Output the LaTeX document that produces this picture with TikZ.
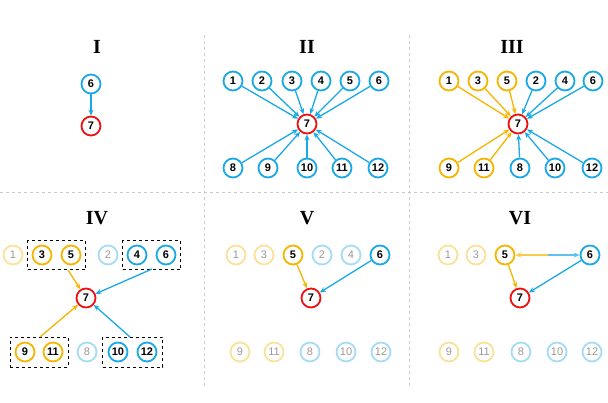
\documentclass[tikz,border=0pt]{standalone}
\usepackage{fontspec}
\setmainfont{Liberation Serif}
\setsansfont{Liberation Sans}
\usetikzlibrary{arrows.meta}
\definecolor{cb}{HTML}{1BA8E6}
\definecolor{co}{HTML}{F7B500}
\definecolor{cr}{HTML}{EE1111}
\tikzset{
 nd/.style={circle,draw,line width=1.8pt,minimum size=19pt,inner sep=0pt,font=\sffamily\bfseries\fontsize{11}{11}\selectfont},
 bn/.style={nd,draw=cb},
 on/.style={nd,draw=co},
 rn/.style={nd,draw=cr},
 fb/.style={nd,draw=cb!40,text=black!40,font=\sffamily\fontsize{11}{11}\selectfont},
 fo/.style={nd,draw=co!40,text=black!40,font=\sffamily\fontsize{11}{11}\selectfont},
 ab/.style={draw=cb,line width=1.3pt,-{Stealth[length=6pt,width=5pt]}},
 ao/.style={draw=co,line width=1.3pt,-{Stealth[length=6pt,width=5pt]}},
 ttl/.style={font=\bfseries\fontsize{20}{20}\selectfont},
 grp/.style={draw,dashed,line width=0.9pt,inner sep=2pt},
 sep/.style={draw=black!20,dashed,line width=0.5pt}
}
\begin{document}
\begin{tikzpicture}[x=1pt,y=-1pt]
\useasboundingbox (0,0) rectangle (608,402);
\draw[sep] (204,35) -- (204,388);
\draw[sep] (409,35) -- (409,388);
\draw[sep] (0,192) -- (608,192);
% titles
\node[ttl] (t1) at (97,47) {I};
\node[ttl] (t2) at (307,47) {II};
\node[ttl] (t3) at (512,47) {III};
\node[ttl] (t4) at (97,218) {IV};
\node[ttl] (t5) at (307,218) {V};
\node[ttl] (t6) at (520,218) {VI};
% Panel I
\node[bn] (a6) at (91,84) {6};
\node[rn] (a7) at (91,126) {7};
\draw[ab] (a6) -- (a7);
% Panel II
\node[rn] (b7) at (307,124) {7};
\foreach \n/\x in {1/233,2/262,3/292,4/321,5/350,6/379}{
 \node[bn] (b\n) at (\x,81) {\n};
 \draw[ab] (b\n) -- (b7);}
\foreach \n/\x in {8/233,9/268,10/307,11/342,12/378}{
 \node[bn] (b\n) at (\x,168) {\n};
 \draw[ab] (b\n) -- (b7);}
% Panel III
\node[rn] (c7) at (518,124) {7};
\foreach \n/\x/\s in {1/449/on,3/478/on,5/507/on,2/536/bn,4/565/bn,6/593/bn}{
 \node[\s] (c\n) at (\x,81) {\n};}
\foreach \n/\x/\s in {9/449/on,11/484/on,8/520/bn,10/555/bn,12/592/bn}{
 \node[\s] (c\n) at (\x,168) {\n};}
\foreach \n in {1,3,5,9,11}{\draw[ao] (c\n) -- (c7);}
\foreach \n in {2,4,6,8,10,12}{\draw[ab] (c\n) -- (c7);}
% Panel IV
\node[rn] (d7) at (86,298) {7};
\node[fo] (d1) at (13,255) {1};
\node[on] (d3) at (42,255) {3};
\node[on] (d5) at (71,255) {5};
\node[fb] (d2) at (108,255) {2};
\node[bn] (d4) at (137,255) {4};
\node[bn] (d6) at (166,255) {6};
\node[on] (d9) at (25,352) {9};
\node[on] (d11) at (53,352) {11};
\node[fb] (d8) at (87,352) {8};
\node[bn] (d10) at (118,352) {10};
\node[bn] (d12) at (147,352) {12};
\node[grp,fit/.style={}] (g1) at (56.5,255) [minimum width=58pt,minimum height=29pt] {};
\node[grp] (g2) at (151.5,255) [minimum width=58pt,minimum height=29pt] {};
\node[grp] (g3) at (39,352) [minimum width=58pt,minimum height=30pt] {};
\node[grp] (g4) at (132.5,352) [minimum width=60pt,minimum height=30pt] {};
\coordinate (e1) at (68,270);
\coordinate (e2) at (152,269);
\coordinate (e3) at (40,337);
\coordinate (e4) at (130,337);
\draw[ao] (e1) -- (d7);
\draw[ab] (e2) -- (d7);
\draw[ao] (e3) -- (d7);
\draw[ab] (e4) -- (d7);
% Panel V
\node[rn] (f7) at (311,298) {7};
\node[fo] (f1) at (236,255) {1};
\node[fo] (f3) at (264,255) {3};
\node[on] (f5) at (293,255) {5};
\node[fb] (f2) at (322,255) {2};
\node[fb] (f4) at (351,255) {4};
\node[bn] (f6) at (380,255) {6};
\foreach \n/\x/\s in {9/240/fo,11/274/fo,8/310/fb,10/346/fb,12/381/fb}{
 \node[\s] (f\n) at (\x,352) {\n};}
\draw[ao] (f5) -- (f7);
\draw[ab] (f6) -- (f7);
% Panel VI
\node[rn] (h7) at (520,298) {7};
\node[fo] (h1) at (448,255) {1};
\node[fo] (h3) at (476,255) {3};
\node[on] (h5) at (505,255) {5};
\node[bn] (h6) at (590,255) {6};
\foreach \n/\x/\s in {9/449/fo,11/484/fo,8/521/fb,10/557/fb,12/592/fb}{
 \node[\s] (h\n) at (\x,352) {\n};}
\coordinate (hm) at (547.5,255);
\draw[ao,draw=co!70] (hm) -- (h5);
\draw[ab,draw=cb!70] (hm) -- (h6);
\draw[ao] (h5) -- (h7);
\draw[ab] (h6) -- (h7);
\end{tikzpicture}
\end{document}
